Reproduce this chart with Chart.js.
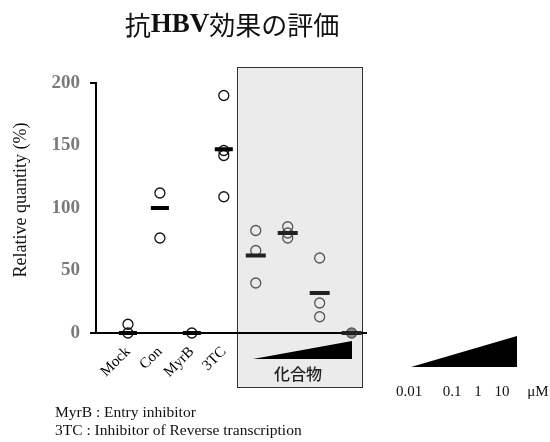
<!DOCTYPE html>
<html>
<head>
<meta charset="utf-8">
<script src="https://cdn.jsdelivr.net/npm/chart.js@4/dist/chart.umd.min.js"></script>
<style>
    html, body { margin: 0; padding: 0; background: #fff; }
    #wrap { width: 550px; height: 442px; position: relative; }
</style>
</head>
<body>
<div id="wrap"><canvas id="hbvChart"></canvas></div>
<script>
// Anti-HBV effect: replicate points and mean bars per group.
const categories = ['Mock', 'Con', 'MyrB', '3TC', 'C1', 'C2', 'C3', 'C4'];
const tickLabels = ['Mock', 'Con', 'MyrB', '3TC', '', '', '', ''];
const replicateValues = [[7, 0], [112, 76], [0], [190, 146, 142, 109], [82, 66, 40], [85, 80, 76], [60, 24, 13], [0]];
const meanValues = [0, 100, 0, 147, 62, 80, 32, 0];
const yTicks = [0, 50, 100, 150, 200];
const doseLabels = ['0.01', '0.1', '1', '10', 'μM'];
const footnotes = ['MyrB : Entry inhibitor', '3TC : Inhibitor of Reverse transcription'];

const isCompound = (x) => x > 4;

const replicatePoints = [];
replicateValues.forEach((vals, i) => {
    vals.forEach((v) => replicatePoints.push({ x: i + 1, y: v }));
});
const meanPoints = meanValues.map((v, i) => ({ x: i + 1, y: v }));

const decorations = {
    id: 'decorations',
    beforeDraw(chart) {
        const ctx = chart.ctx;
        ctx.save();
        // compound panel
        ctx.fillStyle = '#ebebeb';
        ctx.fillRect(237, 67, 125, 320);
        ctx.strokeStyle = '#333';
        ctx.lineWidth = 1;
        ctx.strokeRect(237.5, 67.5, 125, 320);
        ctx.fillStyle = '#000';
        ctx.beginPath();
        ctx.moveTo(253, 359);
        ctx.lineTo(352, 341);
        ctx.lineTo(352, 359);
        ctx.closePath();
        ctx.fill();
        ctx.font = '500 16px "Noto Sans CJK JP"';
        ctx.textAlign = 'center';
        ctx.textBaseline = 'middle';
        ctx.fillStyle = '#222';
        ctx.fillText('化合物', 298, 374);
        ctx.restore();
    },
    afterDraw(chart) {
        const ctx = chart.ctx;
        ctx.save();
        ctx.fillStyle = '#111';
        ctx.textBaseline = 'middle';

        // title with mixed fonts
        const parts = [
            ['抗', '400 26px "Noto Sans CJK JP"'],
            ['HBV', 'bold 27px "Liberation Serif"'],
            ['効果の評価', '400 26px "Noto Sans CJK JP"'],
        ];
        let total = 0;
        parts.forEach(([t, f]) => { ctx.font = f; total += ctx.measureText(t).width; });
        let x = 232 - total / 2;
        ctx.textAlign = 'left';
        parts.forEach(([t, f]) => {
            ctx.font = f;
            ctx.fillText(t, x, 25);
            x += ctx.measureText(t).width;
        });

        // y axis title
        ctx.save();
        ctx.translate(21, 200);
        ctx.rotate(-Math.PI / 2);
        ctx.textAlign = 'center';
        ctx.font = '18px "Liberation Serif"';
        ctx.fillText('Relative quantity (%)', 0, 0);
        ctx.restore();

        // dose wedge legend
        ctx.fillStyle = '#000';
        ctx.beginPath();
        ctx.moveTo(411, 367);
        ctx.lineTo(517, 336);
        ctx.lineTo(517, 367);
        ctx.closePath();
        ctx.fill();
        ctx.fillStyle = '#111';
        ctx.font = '15px "Liberation Serif"';
        ctx.textAlign = 'center';
        const doseX = [409, 452, 478, 502, 538];
        doseLabels.forEach((t, i) => ctx.fillText(t, doseX[i], 392));

        // footnotes
        ctx.textAlign = 'left';
        ctx.font = '15.5px "Liberation Serif"';
        footnotes.forEach((t, i) => ctx.fillText(t, 55, 413 + i * 18));
        ctx.restore();
    },
};

new Chart(document.getElementById('hbvChart'), {
    type: 'scatter',
    data: {
        datasets: [
            {
                label: 'Mean',
                data: meanPoints,
                order: 0,
                clip: false,
                pointStyle: 'line',
                pointRadius: (c) => (isCompound(c.raw.x) ? 10 : 9),
                pointBorderWidth: 4,
                pointBorderColor: (c) => (isCompound(c.raw.x) ? '#222' : '#000'),
            },
            {
                label: 'Replicates',
                data: replicatePoints,
                order: 1,
                clip: false,
                pointStyle: 'circle',
                pointRadius: 5,
                pointBorderWidth: 1.3,
                pointBorderColor: (c) => (isCompound(c.raw.x) ? '#555' : '#111'),
                pointBackgroundColor: (c) => (c.raw.x === 8 ? '#888' : 'rgba(0,0,0,0)'),
            },
        ],
    },
    options: {
        responsive: true,
        maintainAspectRatio: false,
        animation: false,
        events: [],
        layout: { padding: { left: 0, top: 83, right: 184, bottom: 0 } },
        plugins: { legend: { display: false }, tooltip: { enabled: false } },
        scales: {
            x: {
                type: 'linear',
                min: 0,
                max: 8.45,
                afterFit: (s) => { s.height = 109; },
                afterBuildTicks: (s) => { s.ticks = categories.map((c, i) => ({ value: i + 1 })); },
                grid: { display: false },
                border: { display: true, color: '#000', width: 2 },
                ticks: {
                    autoSkip: false,
                    maxRotation: 45,
                    minRotation: 45,
                    padding: 2,
                    color: '#000',
                    font: { family: 'Liberation Serif', size: 15 },
                    callback: (v) => tickLabels[v - 1] || '',
                },
            },
            y: {
                min: 0,
                max: 200,
                afterFit: (s) => { s.width = 96; },
                afterBuildTicks: (s) => { s.ticks = yTicks.map((v) => ({ value: v })); },
                grid: {
                    drawOnChartArea: false,
                    tickLength: 6,
                    lineWidth: 2,
                    color: (c) => (c.tick && (c.tick.value === 200 || c.tick.value === 0) ? '#000' : 'rgba(0,0,0,0)'),
                },
                border: { display: true, color: '#000', width: 2 },
                ticks: {
                    padding: 10,
                    color: '#7a7a7a',
                    font: { family: 'Liberation Serif', size: 19, weight: 'bold' },
                },
            },
        },
    },
    plugins: [decorations],
});
</script>
</body>
</html>
